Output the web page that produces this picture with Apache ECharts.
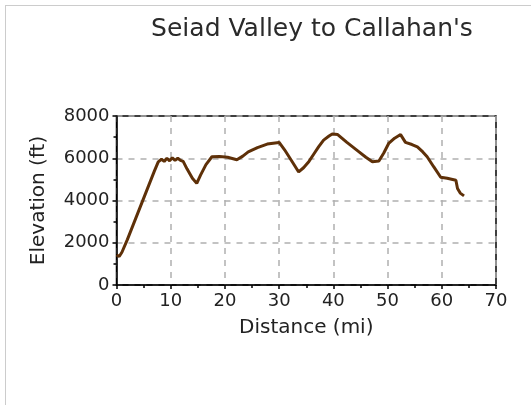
<!DOCTYPE html>
<html>
<head>
<meta charset="utf-8">
<script src="https://cdn.jsdelivr.net/npm/echarts@6/dist/echarts.min.js"></script>
<style>
  html, body { margin: 0; padding: 0; background: #fff; }
  #frame { position: absolute; left: 5px; top: 5px; width: 526px; height: 400px;
           border-left: 1px solid #ccc; border-top: 1px solid #ccc; }
  #chart { position: absolute; left: 0; top: 0; width: 531px; height: 405px; }
</style>
</head>
<body>
<div id="frame"></div>
<div id="chart"></div>
<script>
// trail profile
const distance = [0, 0.5, 1.0, 2, 3, 4, 5, 6, 7, 7.7, 8.3, 8.8, 9.3, 9.8, 10.3, 10.8, 11.3, 11.8,
    12.3, 13, 14, 14.8, 15.5, 16.5, 17.6, 19, 20.5, 22.2, 23.3, 24.3, 26, 27.8, 30, 31, 32.5, 33.6,
    34.5, 35.5, 36.4, 37.3, 38.2, 39.2, 39.8, 40.8, 42.5, 44.5, 46, 47.2, 48.4, 49.3, 50.2, 51.3,
    52.4, 53.3, 54.5, 55.5, 56.5, 57.3, 58.5, 59.8, 61, 62.6, 62.9, 63.4, 64.1];
const elevation = [1420, 1350, 1550, 2150, 2800, 3450, 4100, 4750, 5400, 5830, 5950, 5850, 6000, 5880,
    6020, 5900, 6000, 5900, 5850, 5500, 5050, 4810, 5200, 5700, 6070, 6080, 6050, 5930, 6100, 6300,
    6500, 6670, 6750, 6400, 5800, 5350, 5550, 5850, 6200, 6550, 6860, 7050, 7150, 7120, 6750, 6350,
    6050, 5830, 5870, 6250, 6700, 6950, 7120, 6750, 6650, 6540, 6300, 6070, 5600, 5100, 5050, 4960,
    4570, 4350, 4220];
const xTicks = [0, 10, 20, 30, 40, 50, 60, 70];
const yTicks = [0, 2000, 4000, 6000, 8000];

const font = 'DejaVu Sans';
const myChart = echarts.init(document.getElementById('chart'));

const option = {
    animation: false,
    title: {
        text: 'Seiad Valley to Callahan\'s',
        left: 307,
        top: 12,
        textAlign: 'center',
        textStyle: {fontFamily: font, fontSize: 25, fontWeight: 'normal', color: '#2a2a2a'}
    },
    grid: {
        left: 116.5, right: 35, top: 116, bottom: 120,
        show: true, borderColor: '#000', borderWidth: 1.5, backgroundColor: 'transparent'
    },
    xAxis: {
        type: 'value',
        min: xTicks[0], max: xTicks[xTicks.length - 1], interval: 10,
        name: 'Distance (mi)', nameLocation: 'middle', nameGap: 33,
        nameTextStyle: {fontFamily: font, fontSize: 20, color: '#222'},
        axisLine: {lineStyle: {color: '#000', width: 1.5}},
        axisTick: {length: 4, lineStyle: {color: '#000', width: 1.5}},
        minorTick: {show: true, splitNumber: 2, length: 3, lineStyle: {color: '#000', width: 1.5}},
        axisLabel: {fontFamily: font, fontSize: 18, color: '#222', margin: 7,
            formatter: v => String(v)},
        splitLine: {show: true, lineStyle: {color: '#b0b0b0', width: 1.5, type: [6, 6]}}
    },
    yAxis: {
        type: 'value',
        min: yTicks[0], max: yTicks[yTicks.length - 1], interval: 2000,
        name: 'Elevation (ft)', nameLocation: 'middle', nameGap: 68,
        nameTextStyle: {fontFamily: font, fontSize: 20, color: '#222'},
        axisLine: {lineStyle: {color: '#000', width: 1.5}},
        axisTick: {length: 4, lineStyle: {color: '#000', width: 1.5}},
        minorTick: {show: true, splitNumber: 2, length: 3, lineStyle: {color: '#000', width: 1.5}},
        axisLabel: {fontFamily: font, fontSize: 18, color: '#222', margin: 7,
            formatter: v => String(v)},
        splitLine: {show: true, lineStyle: {color: '#b0b0b0', width: 1.5, type: [6, 6]}}
    },
    series: [
        {
            type: 'line',
            data: distance.map((d, i) => [d, elevation[i]]),
            showSymbol: false,
            lineStyle: {color: '#5e3008', width: 3},
            z: 5
        }
    ]
};

myChart.setOption(option);
</script>
</body>
</html>
